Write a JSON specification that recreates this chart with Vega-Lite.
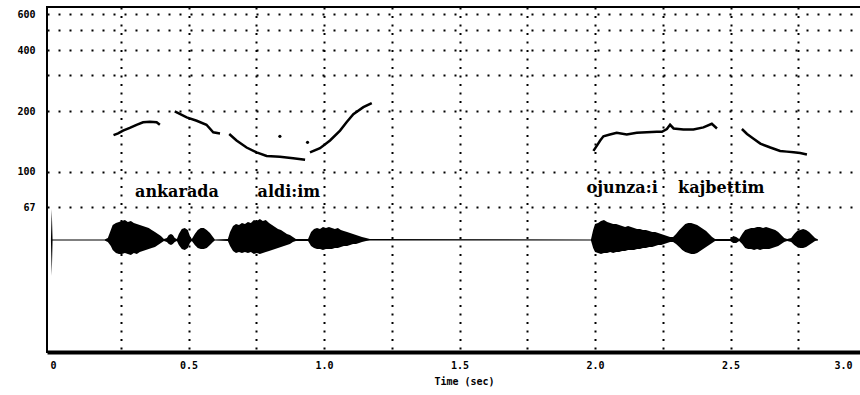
{
  "$schema": "https://vega.github.io/schema/vega-lite/v6.json",
  "width": 819,
  "height": 345,
  "autosize": {"type": "none"},
  "padding": {"left": 47, "top": 7, "right": 0, "bottom": 43},
  "background": "white",
  "config": {"view": {"stroke": "black", "strokeWidth": 2}, "font": "DejaVu Sans Mono"},
  "datasets": {
    "pitch": [
      {"seg": "a", "t": 0.223, "f": 152}, {"seg": "a", "t": 0.240, "f": 155}, {"seg": "a", "t": 0.258, "f": 160},
      {"seg": "a", "t": 0.283, "f": 165}, {"seg": "a", "t": 0.308, "f": 171}, {"seg": "a", "t": 0.332, "f": 176},
      {"seg": "a", "t": 0.357, "f": 177}, {"seg": "a", "t": 0.382, "f": 176}, {"seg": "a", "t": 0.394, "f": 171},
      {"seg": "b", "t": 0.449, "f": 199}, {"seg": "b", "t": 0.493, "f": 186}, {"seg": "b", "t": 0.530, "f": 179},
      {"seg": "b", "t": 0.566, "f": 171}, {"seg": "b", "t": 0.591, "f": 157}, {"seg": "b", "t": 0.616, "f": 155},
      {"seg": "c", "t": 0.650, "f": 154}, {"seg": "c", "t": 0.677, "f": 143}, {"seg": "c", "t": 0.714, "f": 132},
      {"seg": "c", "t": 0.751, "f": 125}, {"seg": "c", "t": 0.788, "f": 120}, {"seg": "c", "t": 0.837, "f": 119},
      {"seg": "c", "t": 0.886, "f": 117}, {"seg": "c", "t": 0.930, "f": 115},
      {"seg": "d", "t": 0.948, "f": 125}, {"seg": "d", "t": 0.985, "f": 131}, {"seg": "d", "t": 1.022, "f": 143},
      {"seg": "d", "t": 1.059, "f": 160}, {"seg": "d", "t": 1.083, "f": 176}, {"seg": "d", "t": 1.108, "f": 193},
      {"seg": "d", "t": 1.145, "f": 209}, {"seg": "d", "t": 1.176, "f": 219},
      {"seg": "e", "t": 1.994, "f": 127}, {"seg": "e", "t": 2.007, "f": 135}, {"seg": "e", "t": 2.019, "f": 143},
      {"seg": "e", "t": 2.031, "f": 150}, {"seg": "e", "t": 2.055, "f": 153}, {"seg": "e", "t": 2.080, "f": 156},
      {"seg": "e", "t": 2.117, "f": 153}, {"seg": "e", "t": 2.154, "f": 156}, {"seg": "e", "t": 2.191, "f": 157},
      {"seg": "e", "t": 2.228, "f": 158}, {"seg": "e", "t": 2.247, "f": 158}, {"seg": "e", "t": 2.265, "f": 163},
      {"seg": "e", "t": 2.277, "f": 171}, {"seg": "e", "t": 2.290, "f": 164}, {"seg": "e", "t": 2.326, "f": 162},
      {"seg": "e", "t": 2.363, "f": 162}, {"seg": "e", "t": 2.400, "f": 166}, {"seg": "e", "t": 2.431, "f": 173},
      {"seg": "e", "t": 2.450, "f": 164},
      {"seg": "f", "t": 2.542, "f": 163}, {"seg": "f", "t": 2.561, "f": 154}, {"seg": "f", "t": 2.585, "f": 146},
      {"seg": "f", "t": 2.610, "f": 138}, {"seg": "f", "t": 2.647, "f": 132}, {"seg": "f", "t": 2.683, "f": 127},
      {"seg": "f", "t": 2.708, "f": 126}, {"seg": "f", "t": 2.733, "f": 125}, {"seg": "f", "t": 2.757, "f": 124},
      {"seg": "f", "t": 2.782, "f": 122}
    ],
    "pitchdots": [
      {"t": 0.837, "f": 150}, {"t": 0.939, "f": 140}
    ],
    "words": [
      {"t": 0.457, "f": 75, "label": "ankarada"},
      {"t": 0.870, "f": 75, "label": "aldi:im"},
      {"t": 2.100, "f": 79, "label": "ojunza:i"},
      {"t": 2.466, "f": 79, "label": "kajbettim"}
    ],
    "wave": [
      {"t": -0.008, "hi": 0.5, "lo": -0.5}, {"t": -0.005, "hi": 31, "lo": -36}, {"t": -0.002, "hi": 0.5, "lo": -0.5},
      {"t": 0.190, "hi": 0.5, "lo": -0.5},
      {"t": 0.202, "hi": 2, "lo": -2}, {"t": 0.213, "hi": 10, "lo": -6}, {"t": 0.220, "hi": 15, "lo": -10},
      {"t": 0.232, "hi": 17, "lo": -13}, {"t": 0.243, "hi": 18, "lo": -14}, {"t": 0.254, "hi": 19, "lo": -14},
      {"t": 0.265, "hi": 20, "lo": -13}, {"t": 0.276, "hi": 18, "lo": -14}, {"t": 0.287, "hi": 19, "lo": -15},
      {"t": 0.298, "hi": 17, "lo": -13}, {"t": 0.309, "hi": 16, "lo": -14}, {"t": 0.320, "hi": 15, "lo": -12},
      {"t": 0.331, "hi": 14, "lo": -11}, {"t": 0.342, "hi": 13, "lo": -10}, {"t": 0.353, "hi": 12, "lo": -9},
      {"t": 0.364, "hi": 10, "lo": -8}, {"t": 0.376, "hi": 8, "lo": -7}, {"t": 0.387, "hi": 6, "lo": -5},
      {"t": 0.398, "hi": 4, "lo": -3}, {"t": 0.409, "hi": 1, "lo": -1},
      {"t": 0.420, "hi": 2, "lo": -2}, {"t": 0.427, "hi": 5, "lo": -4}, {"t": 0.435, "hi": 6, "lo": -5},
      {"t": 0.442, "hi": 5, "lo": -4}, {"t": 0.449, "hi": 2, "lo": -2}, {"t": 0.457, "hi": 1, "lo": -1},
      {"t": 0.464, "hi": 6, "lo": -5}, {"t": 0.475, "hi": 11, "lo": -9}, {"t": 0.486, "hi": 12, "lo": -10},
      {"t": 0.497, "hi": 10, "lo": -8}, {"t": 0.505, "hi": 4, "lo": -3}, {"t": 0.512, "hi": 1, "lo": -1},
      {"t": 0.523, "hi": 6, "lo": -5}, {"t": 0.534, "hi": 10, "lo": -8}, {"t": 0.545, "hi": 12, "lo": -9},
      {"t": 0.556, "hi": 12, "lo": -9}, {"t": 0.567, "hi": 10, "lo": -8}, {"t": 0.579, "hi": 7, "lo": -5},
      {"t": 0.590, "hi": 3, "lo": -2}, {"t": 0.597, "hi": 0.5, "lo": -0.5},
      {"t": 0.645, "hi": 1, "lo": -1}, {"t": 0.653, "hi": 8, "lo": -6}, {"t": 0.664, "hi": 14, "lo": -11},
      {"t": 0.675, "hi": 16, "lo": -13}, {"t": 0.686, "hi": 15, "lo": -12}, {"t": 0.697, "hi": 17, "lo": -13},
      {"t": 0.708, "hi": 16, "lo": -12}, {"t": 0.719, "hi": 18, "lo": -13}, {"t": 0.730, "hi": 17, "lo": -12},
      {"t": 0.741, "hi": 20, "lo": -14}, {"t": 0.752, "hi": 19, "lo": -13}, {"t": 0.763, "hi": 21, "lo": -14},
      {"t": 0.774, "hi": 19, "lo": -13}, {"t": 0.785, "hi": 20, "lo": -12}, {"t": 0.797, "hi": 17, "lo": -11},
      {"t": 0.808, "hi": 15, "lo": -10}, {"t": 0.819, "hi": 13, "lo": -9}, {"t": 0.830, "hi": 11, "lo": -8},
      {"t": 0.841, "hi": 10, "lo": -7}, {"t": 0.852, "hi": 8, "lo": -6}, {"t": 0.863, "hi": 6, "lo": -5},
      {"t": 0.874, "hi": 5, "lo": -4}, {"t": 0.885, "hi": 3, "lo": -2}, {"t": 0.896, "hi": 1, "lo": -1},
      {"t": 0.941, "hi": 1, "lo": -1}, {"t": 0.952, "hi": 8, "lo": -6}, {"t": 0.963, "hi": 11, "lo": -8},
      {"t": 0.974, "hi": 12, "lo": -9}, {"t": 0.985, "hi": 11, "lo": -9}, {"t": 0.996, "hi": 13, "lo": -10},
      {"t": 1.007, "hi": 12, "lo": -9}, {"t": 1.018, "hi": 13, "lo": -9}, {"t": 1.029, "hi": 12, "lo": -9},
      {"t": 1.040, "hi": 11, "lo": -8}, {"t": 1.051, "hi": 12, "lo": -8}, {"t": 1.062, "hi": 10, "lo": -7},
      {"t": 1.073, "hi": 9, "lo": -6}, {"t": 1.085, "hi": 8, "lo": -6}, {"t": 1.096, "hi": 7, "lo": -5},
      {"t": 1.107, "hi": 6, "lo": -4}, {"t": 1.118, "hi": 5, "lo": -4}, {"t": 1.129, "hi": 4, "lo": -3},
      {"t": 1.140, "hi": 3, "lo": -2}, {"t": 1.155, "hi": 2, "lo": -1}, {"t": 1.169, "hi": 1, "lo": -0.5},
      {"t": 1.985, "hi": 0.5, "lo": -0.5},
      {"t": 1.993, "hi": 10, "lo": -8}, {"t": 2.000, "hi": 16, "lo": -12}, {"t": 2.011, "hi": 17, "lo": -13},
      {"t": 2.022, "hi": 19, "lo": -14}, {"t": 2.033, "hi": 20, "lo": -13}, {"t": 2.045, "hi": 18, "lo": -13},
      {"t": 2.056, "hi": 17, "lo": -12}, {"t": 2.067, "hi": 16, "lo": -13}, {"t": 2.078, "hi": 16, "lo": -12},
      {"t": 2.089, "hi": 15, "lo": -12}, {"t": 2.100, "hi": 14, "lo": -11}, {"t": 2.111, "hi": 13, "lo": -11},
      {"t": 2.122, "hi": 14, "lo": -10}, {"t": 2.133, "hi": 13, "lo": -10}, {"t": 2.144, "hi": 12, "lo": -10},
      {"t": 2.155, "hi": 11, "lo": -9}, {"t": 2.166, "hi": 11, "lo": -9}, {"t": 2.177, "hi": 10, "lo": -8},
      {"t": 2.188, "hi": 10, "lo": -8}, {"t": 2.200, "hi": 9, "lo": -7}, {"t": 2.211, "hi": 8, "lo": -7},
      {"t": 2.222, "hi": 8, "lo": -6}, {"t": 2.233, "hi": 7, "lo": -5}, {"t": 2.244, "hi": 6, "lo": -5},
      {"t": 2.255, "hi": 5, "lo": -4}, {"t": 2.266, "hi": 4, "lo": -3}, {"t": 2.277, "hi": 3, "lo": -2},
      {"t": 2.288, "hi": 3, "lo": -2},
      {"t": 2.299, "hi": 6, "lo": -4}, {"t": 2.311, "hi": 10, "lo": -7}, {"t": 2.322, "hi": 13, "lo": -10},
      {"t": 2.333, "hi": 16, "lo": -12}, {"t": 2.344, "hi": 17, "lo": -13}, {"t": 2.355, "hi": 17, "lo": -14},
      {"t": 2.366, "hi": 16, "lo": -14}, {"t": 2.377, "hi": 15, "lo": -13}, {"t": 2.388, "hi": 13, "lo": -11},
      {"t": 2.399, "hi": 11, "lo": -9}, {"t": 2.410, "hi": 9, "lo": -7}, {"t": 2.421, "hi": 6, "lo": -5},
      {"t": 2.432, "hi": 3, "lo": -3}, {"t": 2.443, "hi": 1, "lo": -1},
      {"t": 2.499, "hi": 1, "lo": -1}, {"t": 2.510, "hi": 4, "lo": -3}, {"t": 2.521, "hi": 3, "lo": -3},
      {"t": 2.532, "hi": 1, "lo": -1}, {"t": 2.543, "hi": 6, "lo": -4}, {"t": 2.554, "hi": 10, "lo": -8},
      {"t": 2.565, "hi": 11, "lo": -9}, {"t": 2.576, "hi": 12, "lo": -9}, {"t": 2.587, "hi": 12, "lo": -10},
      {"t": 2.598, "hi": 13, "lo": -9}, {"t": 2.609, "hi": 13, "lo": -10}, {"t": 2.620, "hi": 12, "lo": -9},
      {"t": 2.631, "hi": 13, "lo": -9}, {"t": 2.643, "hi": 12, "lo": -9}, {"t": 2.654, "hi": 11, "lo": -8},
      {"t": 2.665, "hi": 10, "lo": -7}, {"t": 2.676, "hi": 8, "lo": -6}, {"t": 2.687, "hi": 5, "lo": -4},
      {"t": 2.698, "hi": 2, "lo": -2}, {"t": 2.709, "hi": 1, "lo": -1},
      {"t": 2.724, "hi": 2, "lo": -2}, {"t": 2.735, "hi": 6, "lo": -5}, {"t": 2.746, "hi": 9, "lo": -7},
      {"t": 2.757, "hi": 10, "lo": -8}, {"t": 2.768, "hi": 11, "lo": -8}, {"t": 2.779, "hi": 10, "lo": -7},
      {"t": 2.790, "hi": 8, "lo": -5}, {"t": 2.801, "hi": 5, "lo": -3}, {"t": 2.812, "hi": 2, "lo": -1},
      {"t": 2.823, "hi": 0.5, "lo": -0.5}
    ]
  },
  "layer": [
    {
      "layer": [
        {
          "data": {"name": "pitch"},
          "mark": {"type": "line", "color": "black", "strokeWidth": 2.5},
          "encoding": {
            "x": {
              "field": "t", "type": "quantitative",
              "scale": {"domain": [-0.0225, 3.0], "nice": false, "zero": false},
              "axis": {
                "values": [0, 0.25, 0.5, 0.75, 1, 1.25, 1.5, 1.75, 2, 2.25, 2.5, 2.75, 3],
                "title": "Time (sec)",
                "titleFont": "DejaVu Sans Mono", "titleFontWeight": "bold", "titleFontSize": 10,
                "titlePadding": 6, "titleX": 417,
                "labelExpr": "datum.value == 0 ? '0' : (datum.value * 2) % 1 == 0 ? format(datum.value, '.1f') : ''",
                "labelFont": "DejaVu Sans Mono", "labelFontWeight": "bold", "labelFontSize": 10,
                "labelPadding": 8, "labelOverlap": false, "labelColor": "black",
                "labelOffset": {"condition": {"test": "datum.value == 3", "value": -14}, "value": 0},
                "ticks": false, "tickSize": 0,
                "domain": true, "domainWidth": 4, "domainColor": "black",
                "grid": true, "gridColor": "black", "gridDash": [2, 6.5], "gridWidth": 2,
                "gridOpacity": {"condition": {"test": "datum.value == 0", "value": 0}, "value": 1}
              }
            },
            "y": {
              "field": "f", "type": "quantitative",
              "scale": {"type": "log", "domain": [12.895, 653], "nice": false},
              "axis": {
                "values": [67, 100, 200, 300, 400, 500, 600],
                "labelExpr": "datum.value == 300 || datum.value == 500 ? '' : format(datum.value, 'd')",
                "title": null, "domain": false, "ticks": false, "tickSize": 0,
                "labelFont": "DejaVu Sans Mono", "labelFontWeight": "bold", "labelFontSize": 10,
                "labelPadding": 12, "labelOverlap": false, "labelColor": "black",
                "grid": true, "gridColor": "black", "gridDash": [2, 9], "gridWidth": 2
              }
            },
            "detail": {"field": "seg"}
          }
        },
        {
          "data": {"name": "pitchdots"},
          "mark": {"type": "circle", "size": 10, "color": "black", "opacity": 1},
          "encoding": {
            "x": {"field": "t", "type": "quantitative"},
            "y": {"field": "f", "type": "quantitative"}
          }
        },
        {
          "data": {"name": "words"},
          "mark": {"type": "text", "font": "DejaVu Serif", "fontWeight": "bold", "fontSize": 16, "baseline": "alphabetic", "align": "center", "color": "black"},
          "encoding": {
            "x": {"field": "t", "type": "quantitative"},
            "y": {"field": "f", "type": "quantitative"},
            "text": {"field": "label"}
          }
        },
        {
          "mark": {"type": "rule", "color": "black", "strokeWidth": 2.5},
          "encoding": {"y": {"datum": 67}}
        }
      ]
    },
    {
      "layer": [
        {
          "data": {"name": "wave"},
          "mark": {"type": "area", "color": "black", "opacity": 1},
          "encoding": {
            "x": {"field": "t", "type": "quantitative"},
            "y": {
              "field": "hi", "type": "quantitative",
              "scale": {"domain": [-112, 233], "nice": false, "zero": false},
              "axis": null
            },
            "y2": {"field": "lo"}
          }
        },
        {
          "mark": {"type": "rule", "color": "black", "strokeWidth": 1.5},
          "encoding": {"y": {"datum": 0}}
        },
        {
          "mark": {"type": "rule", "color": "black", "strokeWidth": 5},
          "encoding": {"x": {"datum": -0.0225}}
        },
        {
          "mark": {"type": "rule", "color": "black", "strokeWidth": 2},
          "encoding": {"x": {"datum": 2.9705}}
        }
      ]
    }
  ],
  "resolve": {"scale": {"y": "independent"}}
}
